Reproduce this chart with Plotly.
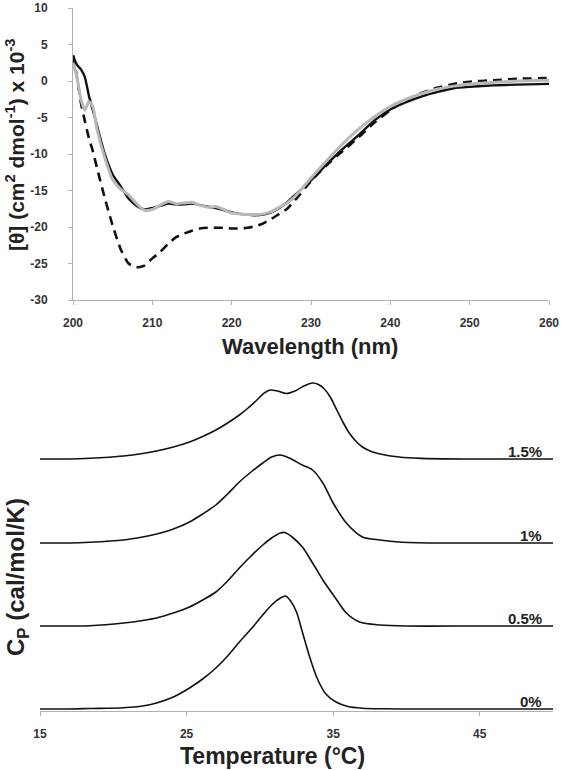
import plotly.graph_objects as go

# ---------------- Top panel: CD spectra ----------------
wavelength = [200, 200.5, 201, 201.5, 202, 202.5, 203, 204, 205, 206, 207, 208, 209, 210,
              211, 212, 213, 214, 215, 216, 217, 218, 219, 220, 221, 222, 223, 224, 225,
              226, 227, 228, 230, 232, 234, 236, 238, 240, 242, 244, 246, 248, 250, 253,
              256, 260]
theta_black = [3.5, 2.2, 1.6, 0.5, -2.0, -4.0, -6.0, -10.0, -12.8, -14.4, -16.1, -17.1, -17.6,
               -17.4, -17.1, -16.8, -16.9, -16.9, -16.8, -17.0, -17.2, -17.4, -17.7, -18.0,
               -18.2, -18.3, -18.4, -18.3, -18.0, -17.4, -16.6, -15.6, -13.6, -11.4, -9.3,
               -7.4, -5.4, -3.9, -2.9, -2.1, -1.5, -1.0, -0.8, -0.6, -0.5, -0.4]
theta_gray = [2.5, 0.5, -2.5, -4.0, -2.8, -3.5, -6.5, -10.5, -13.5, -14.8, -15.6, -16.8, -17.7,
              -17.6, -17.0, -16.5, -16.8, -16.7, -16.6, -17.0, -17.3, -17.2, -17.6, -18.1,
              -18.2, -18.3, -18.3, -18.2, -17.9, -17.3, -16.7, -15.8, -13.3, -10.9, -8.6,
              -6.6, -4.9, -3.5, -2.5, -1.7, -1.1, -0.7, -0.4, -0.2, 0.0, 0.1]
theta_dashed = [3.5, 0.5, -3.0, -5.5, -7.8, -9.6, -11.8, -16.0, -19.8, -23.0, -25.0, -25.5,
                -25.3, -24.3, -23.4, -22.3, -21.4, -20.9, -20.5, -20.2, -20.1, -20.1, -20.1,
                -20.2, -20.2, -20.1, -19.9, -19.5, -18.9, -18.2, -17.5, -16.3, -13.7, -11.5,
                -9.6, -7.7, -5.7, -4.0, -2.6, -1.6, -0.9, -0.4, -0.1, 0.1, 0.3, 0.4]
wl_ticks = [200, 210, 220, 230, 240, 250, 260]
theta_ticks = [-30, -25, -20, -15, -10, -5, 0, 5, 10]
theta_ticktext = ["-30", "-25", "-20", "-15", "-10", "-5", "0", "5", "10"]

# ---------------- Bottom panel: DSC thermograms ----------------
conc_labels = ["0%", "0.5%", "1%", "1.5%"]
curve_offsets = [0, 83, 166, 250]

temp_0 = [15, 17, 18.4, 20.7, 22.0, 22.95, 24.1, 25.2, 26.1, 27.0, 27.8, 28.6, 29.4, 30.2,
          30.8, 31.4, 31.75, 32.1, 32.5, 32.9, 33.4, 33.9, 34.5, 35.2, 36.0, 37.0, 38.5, 40,
          45, 50]
cp_0 = [0, 0, 0.5, 1.3, 3, 6, 12, 21, 30, 41, 53, 67, 80, 94,
        104, 111, 113, 108, 97, 77, 52, 31, 15, 7, 2.5, 0.8, 0.2, 0,
        0, 0]

temp_05 = [15, 17, 18.4, 20.7, 22.0, 22.95, 24.1, 25.2, 26.1, 27.0, 27.8, 28.6, 29.4, 30.2,
           30.8, 31.4, 31.7, 32.2, 32.9, 33.6, 34.3, 35.25, 35.9, 36.8, 38.2, 40, 45, 50]
cp_05 = [0, 0, 0.3, 3, 5.5, 8, 13, 19, 26, 34, 45, 58, 70, 81,
         88, 93, 93.5, 89, 79, 63, 46, 26, 13, 4, 1, 0, 0, 0]

temp_1 = [15, 17, 18.4, 20.7, 22.0, 22.95, 24.1, 25.2, 26.1, 27.0, 27.8, 28.6, 29.4, 30.2,
          30.8, 31.4, 32.0, 32.9, 33.6, 34.3, 35.0, 35.9, 37.0, 38.2, 39.5, 42, 45, 50]
cp_1 = [0, 0, 0.7, 3, 6, 9, 14, 21, 29, 38, 49, 61, 71, 80,
        86, 88, 85, 78, 73, 60, 40, 20, 6, 3, 1, 0, 0, 0]

temp_15 = [15, 17, 18.4, 20.7, 22.0, 22.95, 24.1, 25.2, 26.1, 27.0, 27.8, 28.6, 29.2, 29.8,
           30.3, 30.7, 31.2, 31.8, 32.4, 33.0, 33.6, 34.0, 34.4, 34.8, 35.25, 35.7, 36.1,
           36.6, 37.0, 37.6, 38.2, 39.5, 41, 44, 50]
cp_15 = [0, 0, 0.7, 3, 5.5, 8, 12, 17, 22.5, 29, 36, 44, 51, 59,
         66, 69, 68, 65.5, 68, 73, 76, 74.5, 70, 62, 49, 36, 26,
         17, 12, 7.5, 5, 2, 0.6, 0, 0]

temp_ticks = [15, 25, 35, 45]

curve_temps = [temp_0, temp_05, temp_1, temp_15]
curve_cps = [cp_0, cp_05, cp_1, cp_15]

# ---------------- Figure ----------------
W, H = 561, 770
FONT = "Arial, Liberation Sans, sans-serif"


def px_x(p):
    return p / W


def px_y(p):
    return 1 - p / H


fig = go.Figure()

fig.add_trace(go.Scatter(x=wavelength, y=theta_dashed, mode="lines",
                         line=dict(color="#111111", width=2.6, dash="9px,6px", shape="spline", smoothing=0.6),
                         xaxis="x", yaxis="y", showlegend=False, hoverinfo="skip"))
fig.add_trace(go.Scatter(x=wavelength, y=theta_black, mode="lines",
                         line=dict(color="#111111", width=2.4, shape="spline", smoothing=0.6),
                         xaxis="x", yaxis="y", showlegend=False, hoverinfo="skip"))
fig.add_trace(go.Scatter(x=wavelength, y=theta_gray, mode="lines",
                         line=dict(color="#b8b8b8", width=3, shape="spline", smoothing=0.6),
                         xaxis="x", yaxis="y", showlegend=False, hoverinfo="skip"))

for temps, cps, off in zip(curve_temps, curve_cps, curve_offsets):
    fig.add_trace(go.Scatter(x=temps, y=[c + off for c in cps], mode="lines",
                             line=dict(color="#111111", width=1.6, shape="spline", smoothing=0.8),
                             xaxis="x2", yaxis="y2", showlegend=False, hoverinfo="skip"))

annotations = []
for lab, off in zip(conc_labels, curve_offsets):
    annotations.append(dict(x=49.4, y=off, xref="x2", yref="y2", text=lab, showarrow=False,
                            xanchor="right", yanchor="bottom", yshift=-3,
                            font=dict(family=FONT, size=15, color="#222222", weight="bold")))

annotations.append(dict(x=px_x(310), y=px_y(346), xref="paper", yref="paper",
                        text="Wavelength (nm)", showarrow=False, xanchor="center", yanchor="middle",
                        font=dict(family=FONT, size=22, color="#222222", weight="bold")))
annotations.append(dict(x=px_x(15), y=px_y(145), xref="paper", yref="paper",
                        text="[θ] (cm<sup>2</sup> dmol<sup>-1</sup>) x 10<sup>-3</sup>",
                        showarrow=False, textangle=-90, xanchor="center", yanchor="middle",
                        font=dict(family=FONT, size=21, color="#222222", weight="bold")))
annotations.append(dict(x=px_x(272), y=px_y(756), xref="paper", yref="paper",
                        text="Temperature (°C)", showarrow=False, xanchor="center", yanchor="middle",
                        font=dict(family=FONT, size=23, color="#222222", weight="bold")))
annotations.append(dict(x=px_x(17), y=px_y(577), xref="paper", yref="paper",
                        text="C<sub>P</sub> (cal/mol/K)", showarrow=False, textangle=-90,
                        xanchor="center", yanchor="middle",
                        font=dict(family=FONT, size=24, color="#222222", weight="bold")))

tickfont = dict(family=FONT, size=12, color="#333333", weight="bold")
axis_color = "#b0b0b0"

fig.update_layout(
    template="none",
    width=W, height=H,
    margin=dict(l=0, r=0, t=0, b=0, pad=0),
    paper_bgcolor="white", plot_bgcolor="white",
    showlegend=False,
    hovermode=False,
    annotations=annotations,
    xaxis=dict(domain=[px_x(73), px_x(549)], range=[200, 260], tickvals=wl_ticks,
               showline=True, linecolor=axis_color, linewidth=1, ticks="outside", ticklen=4,
               tickcolor=axis_color, showgrid=False, zeroline=False, tickfont=tickfont,
               anchor="y", ticklabelstandoff=8, automargin=False),
    yaxis=dict(domain=[px_y(300), px_y(8)], range=[-30, 10], tickvals=theta_ticks,
               ticktext=theta_ticktext,
               showline=True, linecolor=axis_color, linewidth=1, ticks="outside", ticklen=4,
               tickcolor=axis_color, showgrid=False, zeroline=False, tickfont=tickfont,
               anchor="x", ticklabelstandoff=18, automargin=False),
    xaxis2=dict(domain=[px_x(40), px_x(553)], range=[15, 50], tickvals=temp_ticks,
                showline=True, linecolor=axis_color, linewidth=1, ticks="outside", ticklen=4,
                tickcolor=axis_color, showgrid=False, zeroline=False, tickfont=tickfont,
                anchor="y2", ticklabelstandoff=8, automargin=False),
    yaxis2=dict(domain=[px_y(710.5), px_y(375)], range=[-1.5, 334], showline=False,
                showticklabels=False, ticks="", showgrid=False, zeroline=False, anchor="x2",
                automargin=False),
)

fig.write_html("out.html", config={"displayModeBar": False, "staticPlot": True},
               post_script="document.body.style.margin='0';document.body.style.overflow='hidden';")
